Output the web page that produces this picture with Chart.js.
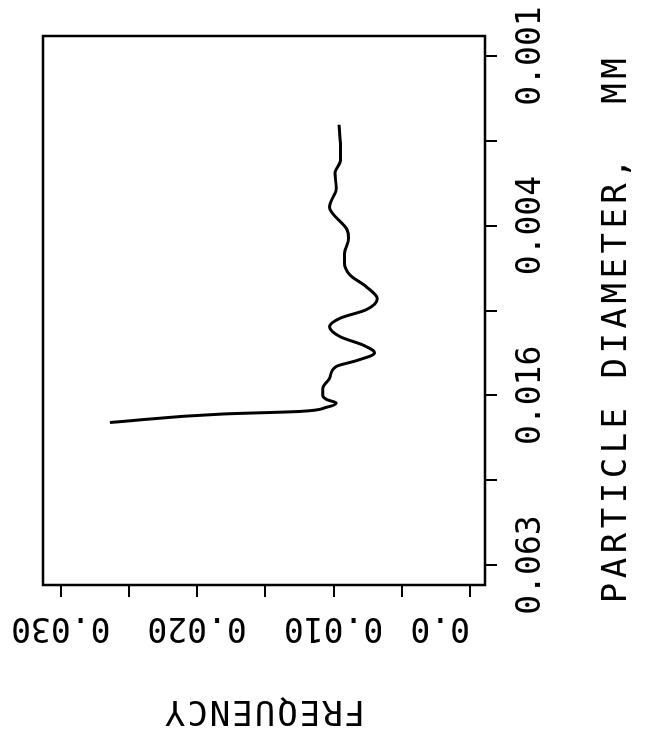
<!DOCTYPE html>
<html>
<head>
<meta charset="utf-8">
<script src="https://cdn.jsdelivr.net/npm/chart.js@4.4.1/dist/chart.umd.min.js"></script>
<style>
  html, body { margin: 0; padding: 0; background: #fff; overflow: hidden; }
  /* chart is drawn upright, then turned a quarter turn counter-clockwise */
  #wrap { position: absolute; left: 0; top: 0; width: 750px; height: 645px;
          transform-origin: 0 0; transform: translateY(750px) rotate(-90deg); }
</style>
</head>
<body>
<div id="wrap"><canvas id="sizeChart" width="750" height="645"></canvas></div>
<script>
// particle diameter in phi units (4 = 0.063 mm, 10 = 0.001 mm)
const phi = [5.68, 5.78, 5.81, 5.86, 5.91, 5.95, 6.00, 6.08, 6.20, 6.34, 6.41, 6.50, 6.59, 6.69, 6.81, 6.91,
             7.01, 7.14, 7.28, 7.42, 7.56, 7.67, 7.85, 7.95, 8.22, 8.28, 8.44, 8.62, 8.77, 8.97, 9.19];
const frequency = [0.0264, 0.0181, 0.0125, 0.0105, 0.0098, 0.0105, 0.0108, 0.0108, 0.0103, 0.0098, 0.0083,
                   0.0070, 0.0078, 0.0095, 0.0103, 0.0095, 0.0076, 0.0068, 0.0076, 0.0088, 0.0092, 0.0092,
                   0.0089, 0.0090, 0.0103, 0.0102, 0.0098, 0.0099, 0.0095, 0.0095, 0.0096];

const phiTicks = [4, 5, 6, 7, 8, 9, 10];
const phiTickLabels = ['0.063', '', '0.016', '', '0.004', '', '0.001'];
const freqTicks = [0, 0.005, 0.010, 0.015, 0.020, 0.025, 0.030];
const freqTickLabels = ['   0.0', '', '0.010', '', '0.020', '', '0.030'];

const xTitle = 'PARTICLE DIAMETER,  MM';
const yTitle = 'FREQUENCY';

const monoFont = { family: '"DejaVu Sans Mono", "Liberation Mono", monospace', size: 33 };

// box round the plot area
const framePlugin = {
    id: 'frame',
    afterDraw(chart) {
        const { ctx, chartArea: a } = chart;
        ctx.save();
        ctx.strokeStyle = '#000';
        ctx.lineWidth = 2.5;
        ctx.strokeRect(a.left, a.top, a.right - a.left, a.bottom - a.top);
        ctx.restore();
    }
};

// axis titles, wide plotter-style lettering
const titlePlugin = {
    id: 'wideTitles',
    afterDraw(chart) {
        const { ctx, chartArea: a } = chart;
        ctx.save();
        ctx.fillStyle = '#000';
        ctx.font = '34px "DejaVu Sans Mono", monospace';
        ctx.textAlign = 'center';
        ctx.textBaseline = 'middle';
        ctx.letterSpacing = '4.5px';
        ctx.fillText(xTitle, (a.left + a.right) / 2 - 18, chart.height - 28);
        ctx.letterSpacing = '2px';
        ctx.translate(40, (a.top + a.bottom) / 2);
        ctx.rotate(-Math.PI / 2);
        ctx.fillText(yTitle, 0, 0);
        ctx.restore();
    }
};

new Chart(document.getElementById('sizeChart'), {
    type: 'line',
    data: {
        datasets: [{
            data: phi.map((p, i) => ({ x: p, y: frequency[i] })),
            borderColor: '#000', borderWidth: 3, pointRadius: 0,
            cubicInterpolationMode: 'monotone', fill: false
        }]
    },
    options: {
        responsive: false, animation: false,
        layout: { padding: { top: 43, right: 36, left: 0, bottom: 0 } },
        plugins: { legend: { display: false }, tooltip: { enabled: false } },
        scales: {
            x: {
                type: 'linear', min: 3.764, max: 10.236,
                afterBuildTicks: s => { s.ticks = phiTicks.map(v => ({ value: v })); },
                afterFit: s => { s.height = 160; s.paddingLeft = 0; s.paddingRight = 0; },
                ticks: { callback: (v, i) => phiTickLabels[i], font: monoFont, color: '#000',
                         padding: 15, maxRotation: 0, autoSkip: false },
                grid: { drawOnChartArea: false, drawTicks: true, tickLength: 12, color: '#000', lineWidth: 2 },
                border: { display: false }
            },
            y: {
                type: 'linear', min: -0.0011, max: 0.0313,
                afterBuildTicks: s => { s.ticks = freqTicks.map(v => ({ value: v })); },
                afterFit: s => { s.width = 165; s.paddingTop = 0; s.paddingBottom = 0; },
                ticks: { callback: (v, i) => freqTickLabels[i], font: monoFont, color: '#000',
                         minRotation: 90, maxRotation: 90, crossAlign: 'center', padding: -30, autoSkip: false },
                grid: { drawOnChartArea: false, drawTicks: true, tickLength: 12, color: '#000', lineWidth: 2 },
                border: { display: false }
            }
        }
    },
    plugins: [framePlugin, titlePlugin]
});
</script>
</body>
</html>
